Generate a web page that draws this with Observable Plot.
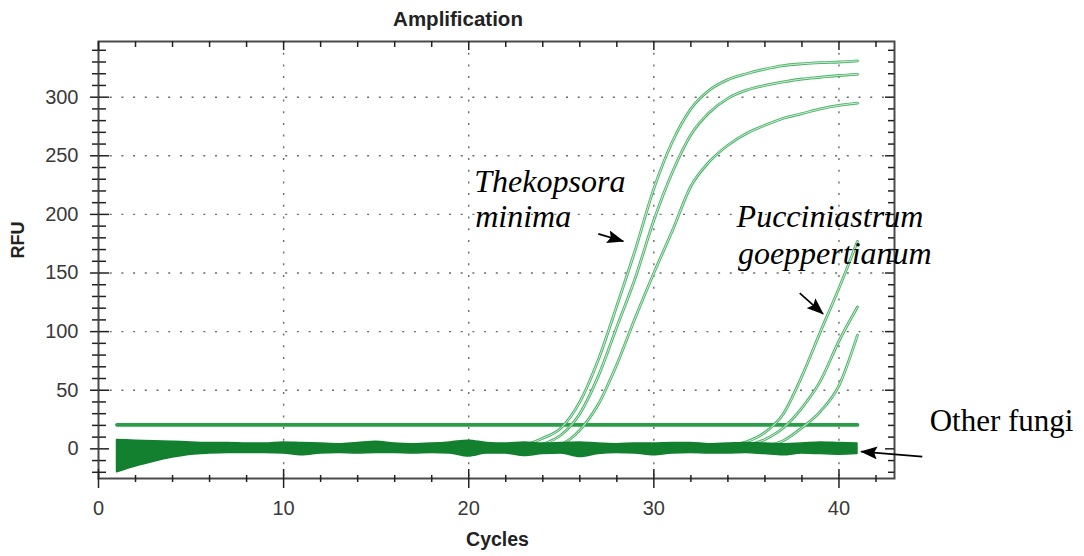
<!DOCTYPE html>
<html>
<head>
<meta charset="utf-8">
<script src="https://cdn.jsdelivr.net/npm/d3@7"></script>
<script src="https://cdn.jsdelivr.net/npm/@observablehq/plot@0.6"></script>
<style>
  html, body { margin: 0; padding: 0; background: #fff; }
  #chart svg { display: block; }
</style>
</head>
<body>
<div id="chart"></div>
<script>
// ---------- data ----------
const titleText = "Amplification";
const xLabel = "Cycles";
const yLabel = "RFU";

// Thekopsora minima (3 replicates), cycles 21..41
const thekCycles = [21,22,23,24,25,26,27,28,29,30,31,32,33,34,35,36,37,38,39,40,41];
const thekA = [0,0.5,3,9,18,40,76,122,170,222,262,290,306,315,320,324,327,328.5,329.5,330,331];
const thekB = [0,0,1,4,12,30,62,104,146,195,236,268,287,299,306,310,313,315.5,317,318.5,319.5];
const thekC = [0,0,0,1,4,16,38,72,112,150,186,224,245,259,269,276,282,286,290,293,295];

// Pucciniastrum goeppertianum (3 replicates), cycles 31..41
const puccCycles = [31,32,33,34,35,36,37,38,39,40,41];
const puccA = [0,0.5,1,3,6,14,30,62,100,137,177];
const puccB = [0,0,0,1,3,8,18,35,58,92,121];
const puccC = [0,0,0,0,1,2.5,7,18,32,54,97];

// Other fungi: envelope of the many flat baseline curves, cycles 1..41
const baseCycles = [1,2,3,4,5,6,7,8,9,10,11,12,13,14,15,16,17,18,19,20,21,22,23,24,25,26,27,28,29,30,31,32,33,34,35,36,37,38,39,40,41];
const baseHi = [7.5,7,6.5,6,5.5,5,5,4.5,4.5,5.5,5,4.5,4,5,6,4.5,4,4.5,5.5,7,5,4.5,5.5,4.5,5,5.5,4.5,4,4.5,4.5,5,5,4,4.5,5,4.5,4,4.5,5.5,5,4.5];
const baseLo = [-20,-15,-11,-7.5,-5,-4,-3.5,-3.5,-3.5,-4,-5.5,-4,-3.5,-4,-3.5,-3.5,-4,-3.5,-4,-6.5,-4,-4,-6,-4.5,-4,-7,-4.5,-3.5,-4,-5.5,-4,-3.5,-4,-4,-3.5,-4.5,-5.5,-4,-4.5,-5,-4.5];

// threshold line
const thresholdRFU = 20.5;
const thresholdCycles = [1, 41];

// axes
const xDomain = [0, 43];
const yDomain = [-25.3, 347.5];
const xMajor = [0, 10, 20, 30, 40];
const xMinor = [2,4,6,8,12,14,16,18,22,24,26,28,32,34,36,38,42];
const yMajor = [0, 50, 100, 150, 200, 250, 300];
const yMinor = [-20,-10,10,20,30,40,60,70,80,90,110,120,130,140,160,170,180,190,210,220,230,240,260,270,280,290,310,320,330,340];
const xGrid = [10, 20, 30, 40];
const yGrid = [50, 100, 150, 200, 250, 300];

// annotations (in cycle / RFU units)
const labels = [
  {text: "Thekopsora", cycle: 20.3, rfu: 218.9},
  {text: "minima", cycle: 20.35, rfu: 189.1},
  {text: "Pucciniastrum", cycle: 34.47, rfu: 189.1},
  {text: "goeppertianum", cycle: 34.54, rfu: 157.8}
];
const plainLabels = [{text: "Other fungi", cycle: 44.9, rfu: 15.6}];
const arrows = [
  {c1: 27.0, r1: 183.4, c2: 28.35, r2: 177.1},
  {c1: 37.88, r1: 132.8, c2: 39.14, r2: 115.2},
  {c1: 44.5, r1: -6.6, c2: 41.2, r2: -2.3}
];

// ---------- build tables ----------
const curveRows = [];
function addSeries(name, cyc, vals) {
  vals.forEach((v, i) => curveRows.push({series: name, cycle: cyc[i], rfu: v}));
}
addSeries("thekA", thekCycles, thekA);
addSeries("thekB", thekCycles, thekB);
addSeries("thekC", thekCycles, thekC);
addSeries("puccA", puccCycles, puccA);
addSeries("puccB", puccCycles, puccB);
addSeries("puccC", puccCycles, puccC);

const baseRows = baseCycles.map((c, i) => ({cycle: c, hi: baseHi[i], lo: baseLo[i]}));
const thresholdRows = thresholdCycles.map(c => ({cycle: c, rfu: thresholdRFU}));

const sans = "'Liberation Sans', Arial, Helvetica, sans-serif";
const serif = "'Liberation Serif', 'Times New Roman', Times, serif";
const tickColor = "#222";
const labelColor = "#3a3a3a";
const tk = {text: null, stroke: tickColor, strokeWidth: 1.5, label: null};

const plot = Plot.plot({
  width: 1084,
  height: 556,
  marginLeft: 98,
  marginRight: 190,
  marginTop: 41,
  marginBottom: 78,
  x: {domain: xDomain},
  y: {domain: yDomain},
  style: {fontFamily: sans, background: "#fff", overflow: "visible"},
  marks: [
    // dotted grid
    Plot.gridX(xGrid, {stroke: "#6a6a6a", strokeOpacity: 1, strokeWidth: 1.4, strokeDasharray: "2,9.7"}),
    Plot.gridY(yGrid, {stroke: "#6a6a6a", strokeOpacity: 1, strokeWidth: 1.4, strokeDasharray: "2,9.7"}),

    // threshold
    Plot.lineY(thresholdRows, {x: "cycle", y: "rfu", stroke: "#2a9d48", strokeWidth: 3.8}),

    // amplification curves (double-line look)
    Plot.line(curveRows, {x: "cycle", y: "rfu", z: "series", stroke: "#4cb468", strokeWidth: 2.8, curve: "monotone-x"}),
    Plot.line(curveRows, {x: "cycle", y: "rfu", z: "series", stroke: "#dcf2e1", strokeWidth: 0.9, curve: "monotone-x"}),

    // other fungi baseline band (drawn over the curve bases)
    Plot.areaY(baseRows, {x: "cycle", y1: "lo", y2: "hi", fill: "#12802f", stroke: "#12802f", strokeWidth: 1.5, curve: "monotone-x"}),

    // frame
    Plot.frame({stroke: "#4a4a4a", strokeWidth: 2}),

    // bottom ticks (crossing)
    Plot.axisX(xMajor, {anchor: "bottom", tickSize: 10, ...tk}),
    Plot.axisX(xMajor, {anchor: "top", frameAnchor: "bottom", tickSize: 10, ...tk}),
    Plot.axisX(xMinor, {anchor: "bottom", tickSize: 4, ...tk}),
    Plot.axisX(xMinor, {anchor: "top", frameAnchor: "bottom", tickSize: 4, ...tk}),
    // top ticks (inward)
    Plot.axisX(xMajor, {anchor: "bottom", frameAnchor: "top", tickSize: 9, ...tk}),
    Plot.axisX(xMinor, {anchor: "bottom", frameAnchor: "top", tickSize: 6, ...tk}),
    // left ticks (crossing)
    Plot.axisY(yMajor, {anchor: "left", tickSize: 8, ...tk}),
    Plot.axisY(yMajor, {anchor: "right", frameAnchor: "left", tickSize: 10, ...tk}),
    Plot.axisY(yMinor, {anchor: "left", tickSize: 6, ...tk}),
    Plot.axisY(yMinor, {anchor: "right", frameAnchor: "left", tickSize: 7, ...tk}),
    // right ticks (inward)
    Plot.axisY(yMajor, {anchor: "left", frameAnchor: "right", tickSize: 9, ...tk}),
    Plot.axisY(yMinor, {anchor: "left", frameAnchor: "right", tickSize: 6, ...tk}),

    // tick labels
    Plot.axisX(xMajor, {anchor: "bottom", tickSize: 0, tickPadding: 22, fontSize: 20, fill: labelColor, label: null}),
    Plot.axisY(yMajor, {anchor: "left", tickSize: 0, tickPadding: 20, fontSize: 20, fill: labelColor, label: null}),

    // title & axis labels
    Plot.text([titleText], {frameAnchor: "top", dx: -38.5, dy: -16, lineAnchor: "bottom", fontSize: 20.5, fontWeight: "bold", fill: "#222"}),
    Plot.text([xLabel], {frameAnchor: "bottom", dx: 1, dy: 67, lineAnchor: "bottom", fontSize: 19.5, fontWeight: "bold", fill: "#222"}),
    Plot.text([yLabel], {frameAnchor: "left", dx: -80.5, dy: -1.5, rotate: -90, lineAnchor: "middle", fontSize: 18, fontWeight: "bold", fill: "#222"}),

    // annotations
    Plot.text(labels, {x: "cycle", y: "rfu", text: "text", textAnchor: "start", lineAnchor: "bottom", fontSize: 32, fontStyle: "italic", fontFamily: serif, fill: "#000"}),
    Plot.text(plainLabels, {x: "cycle", y: "rfu", text: "text", textAnchor: "start", lineAnchor: "bottom", fontSize: 31, fontFamily: serif, fill: "#000"}),
    Plot.link(arrows, {x1: "c1", y1: "r1", x2: "c2", y2: "r2", stroke: "#000", strokeWidth: 1.7})
  ]
});

// filled arrowheads on the annotation arrows
const svgNS = "http://www.w3.org/2000/svg";
const defs = document.createElementNS(svgNS, "defs");
const marker = document.createElementNS(svgNS, "marker");
marker.setAttribute("id", "fillArrowHead");
marker.setAttribute("viewBox", "0 0 17 13");
marker.setAttribute("refX", "16");
marker.setAttribute("refY", "6.5");
marker.setAttribute("markerWidth", "17");
marker.setAttribute("markerHeight", "13");
marker.setAttribute("markerUnits", "userSpaceOnUse");
marker.setAttribute("orient", "auto");
const mp = document.createElementNS(svgNS, "path");
mp.setAttribute("d", "M0,0 L17,6.5 L0,13 L3,6.5 Z");
mp.setAttribute("fill", "#000");
marker.appendChild(mp);
defs.appendChild(marker);
plot.insertBefore(defs, plot.firstChild);
plot.querySelectorAll('g[aria-label="link"] path').forEach(p => p.setAttribute("marker-end", "url(#fillArrowHead)"));

document.getElementById("chart").appendChild(plot);
</script>
</body>
</html>
